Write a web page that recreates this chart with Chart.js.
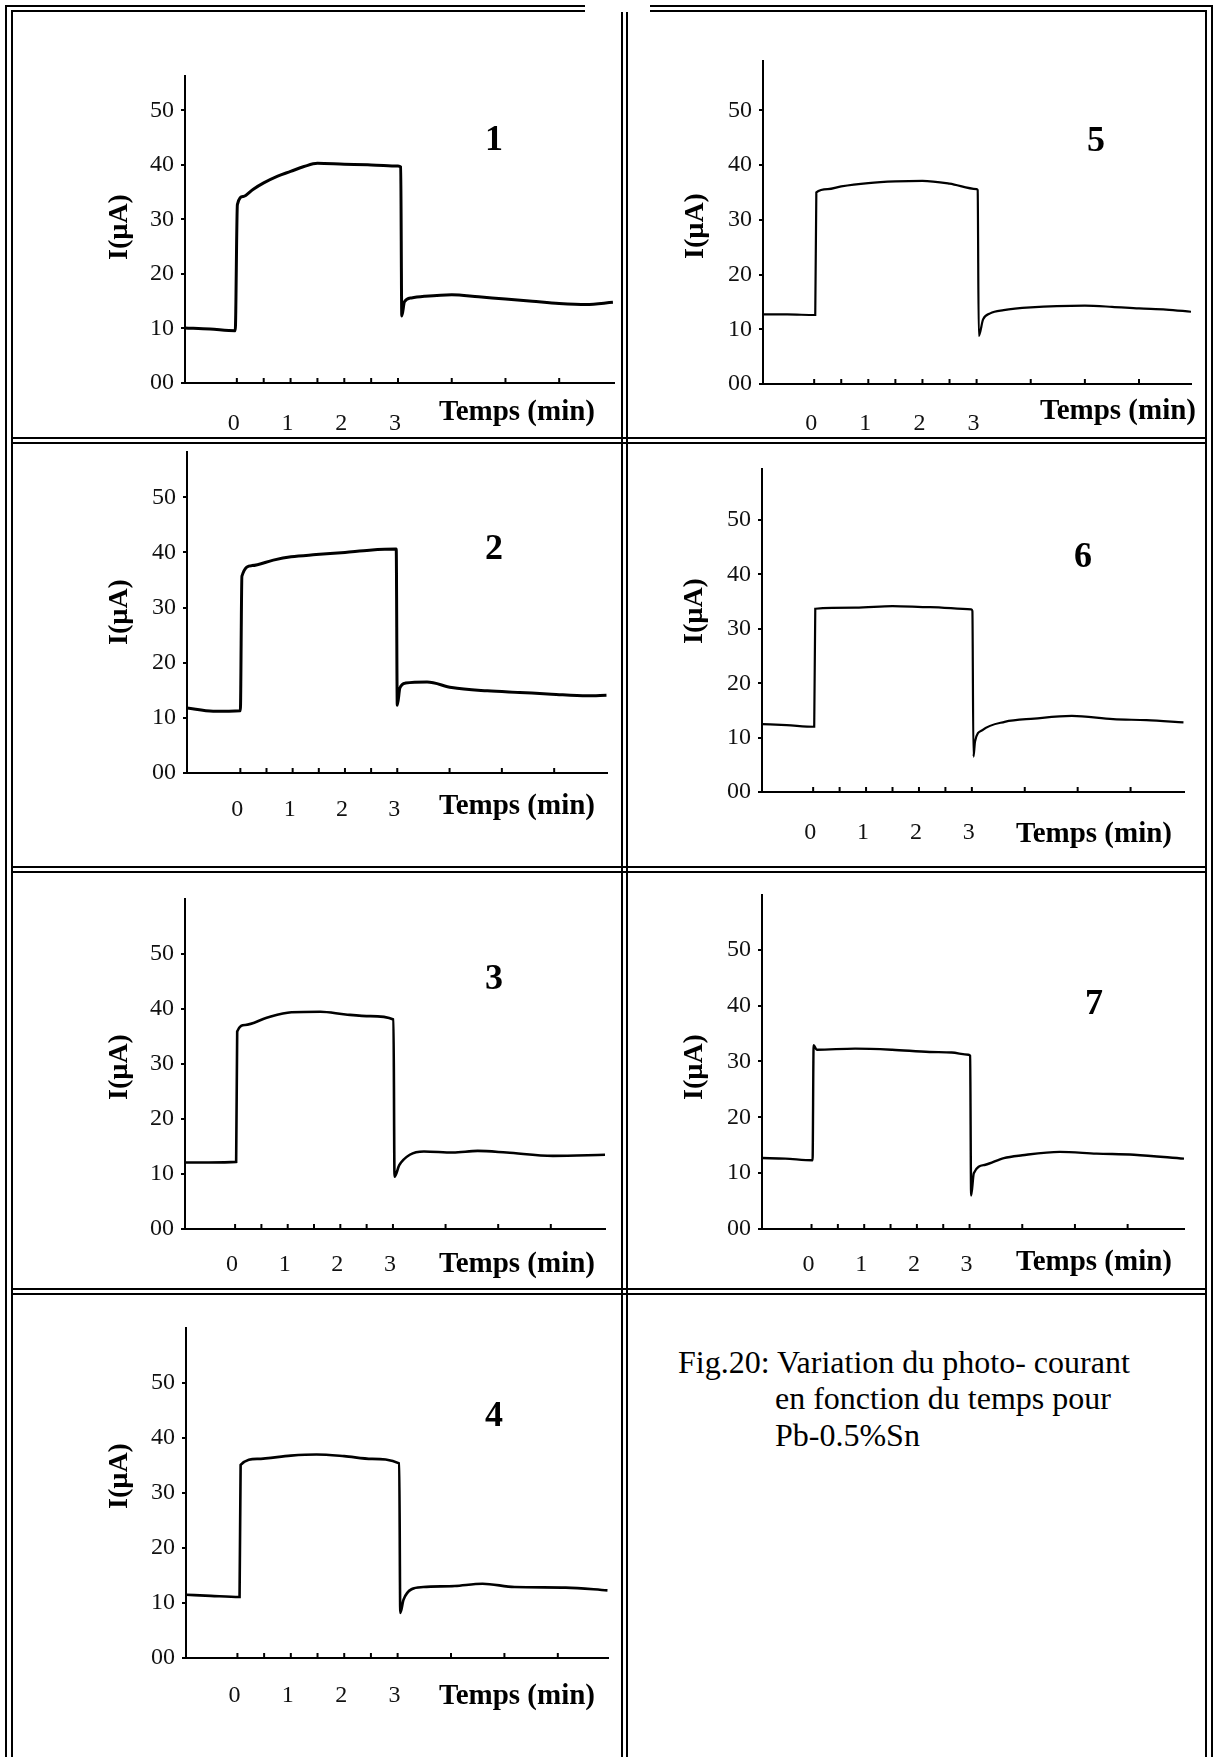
<!DOCTYPE html>
<html lang="fr">
<head>
  <meta charset="utf-8" />
  <title>Fig.20 - photo-courant Pb-0.5%Sn</title>
  <script src="https://cdn.jsdelivr.net/npm/chart.js"></script>
  <style>
    * { box-sizing: border-box; margin: 0; padding: 0; }
    body {
      width: 1217px; height: 1757px; position: relative; overflow: hidden;
      background: #fff; font-family: "Liberation Serif", "Times New Roman", serif;
    }
    .ln { position: absolute; background: #000; }
    .gap { position: absolute; background: #fff; }
    canvas.plot { position: absolute; left: 0; top: 0; }
    .caption { position: absolute; font-size: 32px; line-height: 36px; color: #000; white-space: nowrap; }
  </style>
</head>
<body>
  <!-- double-line table frame -->
  <div class="ln" style="left:5px;top:5px;width:1208px;height:2px"></div>
  <div class="ln" style="left:11px;top:10px;width:1196px;height:2px"></div>
  <div class="gap" style="left:585px;top:0;width:65px;height:13px"></div>
  <div class="ln" style="left:5px;top:5px;width:2px;height:1752px"></div>
  <div class="ln" style="left:11px;top:10px;width:2px;height:1747px"></div>
  <div class="ln" style="left:1205px;top:10px;width:2px;height:1747px"></div>
  <div class="ln" style="left:1211px;top:5px;width:2px;height:1752px"></div>
  <div class="ln" style="left:621px;top:12px;width:2px;height:1745px"></div>
  <div class="ln" style="left:626px;top:12px;width:2px;height:1745px"></div>
  <div class="ln" style="left:11px;top:437px;width:1196px;height:2px"></div>
  <div class="ln" style="left:11px;top:442px;width:1196px;height:2px"></div>
  <div class="ln" style="left:11px;top:866px;width:1196px;height:2px"></div>
  <div class="ln" style="left:11px;top:871px;width:1196px;height:2px"></div>
  <div class="ln" style="left:11px;top:1288px;width:1196px;height:2px"></div>
  <div class="ln" style="left:11px;top:1293px;width:1196px;height:2px"></div>

  <div class="caption" style="left:678px;top:1344px">Fig.20: Variation du photo- courant</div>
  <div class="caption" style="left:775px;top:1380px">en fonction du temps pour</div>
  <div class="caption" style="left:775px;top:1417px">Pb-0.5%Sn</div>

  <script>
    // time (min) and photo-current (µA)
    const t1 = [-0.97, -0.5, -0.03, 0.01, 0.12, 0.3, 0.5, 0.75, 1.0, 1.25, 1.5, 2.0, 2.5, 3.0, 3.05, 3.07, 3.12, 3.25, 3.5, 4.0, 4.5, 5.0, 5.5, 6.0, 6.5, 7.0];
    const i1 = [10.1, 9.9, 9.6, 32.7, 34.2, 35.5, 36.7, 37.9, 38.8, 39.7, 40.3, 40.1, 40.0, 39.8, 39.6, 12.3, 14.9, 15.6, 15.9, 16.2, 15.8, 15.4, 15.0, 14.6, 14.4, 14.8];

    const t2 = [-1.02, -0.52, 0.0, 0.03, 0.22, 0.63, 0.97, 1.45, 2.0, 2.47, 2.98, 3.0, 3.05, 3.16, 3.57, 4.04, 4.72, 5.34, 5.95, 6.63, 7.0];
    const i2 = [11.8, 11.2, 11.3, 35.7, 37.6, 38.6, 39.2, 39.6, 40.0, 40.4, 40.6, 12.3, 15.4, 16.3, 16.5, 15.5, 14.9, 14.6, 14.3, 14.0, 14.1];

    const t3 = [-0.95, -0.5, 0.02, 0.04, 0.19, 0.6, 1.07, 1.62, 2.1, 2.57, 3.01, 3.03, 3.12, 3.32, 3.59, 4.14, 4.61, 5.16, 6.04, 7.03];
    const i3 = [12.1, 12.1, 12.2, 35.9, 37.1, 38.4, 39.4, 39.5, 39.0, 38.7, 38.1, 9.5, 11.6, 13.5, 14.1, 13.9, 14.2, 13.9, 13.3, 13.5];

    const t4 = [-0.96, -0.5, 0.04, 0.06, 0.37, 1.0, 1.48, 2.0, 2.52, 3.03, 3.05, 3.11, 3.26, 3.48, 4.07, 4.59, 5.19, 6.15, 6.93];
    const i4 = [11.5, 11.3, 11.1, 35.1, 36.2, 36.8, 37.0, 36.7, 36.2, 35.4, 8.2, 10.6, 12.5, 12.9, 13.1, 13.5, 12.9, 12.8, 12.3];

    const t5 = [-0.95, -0.5, 0.02, 0.04, 0.25, 0.5, 1.0, 1.5, 2.0, 2.5, 3.0, 3.02, 3.04, 3.12, 3.25, 3.5, 4.0, 5.0, 5.5, 6.0, 6.5, 6.96];
    const i5 = [12.7, 12.7, 12.6, 35.0, 35.6, 36.1, 36.7, 37.0, 37.1, 36.6, 35.6, 35.4, 8.8, 11.8, 12.9, 13.5, 14.0, 14.3, 14.1, 13.8, 13.6, 13.2];

    const t6 = [-0.97, -0.5, 0.02, 0.04, 0.8, 1.5, 2.21, 2.99, 3.01, 3.03, 3.06, 3.2, 3.62, 4.18, 4.89, 5.67, 6.3, 7.0];
    const i6 = [12.5, 12.3, 12.0, 33.7, 33.9, 34.2, 34.0, 33.6, 33.3, 6.5, 9.3, 11.4, 12.9, 13.5, 14.0, 13.4, 13.2, 12.8];

    const t7 = [-0.94, -0.5, 0.02, 0.04, 0.1, 0.83, 1.53, 2.24, 2.66, 2.98, 3.01, 3.03, 3.08, 3.3, 3.65, 4.0, 4.71, 5.41, 6.12, 7.07];
    const i7 = [12.7, 12.6, 12.3, 32.9, 32.1, 32.3, 32.1, 31.7, 31.6, 31.2, 31.0, 6.0, 10.0, 11.5, 12.7, 13.2, 13.8, 13.5, 13.3, 12.6];

    const yTicks = [0, 5, 10, 15, 20, 25, 30, 35, 40, 45, 50, 55];
    const yLabelValues = [0, 10, 20, 30, 40, 50];
    const yTickLabels = ['00', '10', '20', '30', '40', '50'];
    const xTicks = [0, 0.5, 1, 1.5, 2, 2.5, 3, 4, 5, 6];
    const xLabelValues = [0, 1, 2, 3];
    const xTickLabels = ['0', '1', '2', '3'];

    const PAGE_W = 1217, PAGE_H = 1757, Y_W = 60, X_H = 70;

    // layout of each small plot on the page: plot box [left, top, right, bottom] in px
    const panels = [
      { num: '1', t: t1, y: i1, xMin: -0.965, xMax: 7.02, yMax: 56.3, box: [185, 76, 614, 383], lw: 3,   pad: 18, yT: [120, 227],  xT: [439, 413],  nT: [494, 141] },
      { num: '2', t: t2, y: i2, xMin: -1.02,  xMax: 7.01, yMax: 58.2, box: [187, 452, 607, 773], lw: 3,  pad: 14, yT: [120, 612],  xT: [439, 807],  nT: [494, 550] },
      { num: '3', t: t3, y: i3, xMin: -0.952, xMax: 7.03, yMax: 60,   box: [185, 899, 605, 1229], lw: 2.6, pad: 13, yT: [120, 1067], xT: [439, 1265], nT: [494, 980] },
      { num: '4', t: t4, y: i4, xMin: -0.963, xMax: 6.94, yMax: 60,   box: [186, 1328, 608, 1658], lw: 2.6, pad: 15, yT: [120, 1476], xT: [439, 1697], nT: [494, 1417] },
      { num: '5', t: t5, y: i5, xMin: -0.945, xMax: 6.96, yMax: 59,   box: [763, 61, 1191, 384], lw: 2.2,  pad: 17, yT: [696, 226],  xT: [1040, 412], nT: [1096, 142] },
      { num: '6', t: t6, y: i6, xMin: -0.967, xMax: 7.01, yMax: 59.4, box: [762, 469, 1184, 792], lw: 2.2,  pad: 18, yT: [695, 611],  xT: [1016, 835], nT: [1083, 558] },
      { num: '7', t: t7, y: i7, xMin: -0.94,  xMax: 7.07, yMax: 59.8, box: [762, 895, 1184, 1229], lw: 2.4, pad: 13, yT: [695, 1067], xT: [1016, 1263], nT: [1094, 1005] }
    ];

    // inward x ticks, axis titles and panel number
    const decor = {
      id: 'decor',
      afterDraw(chart, args, o) {
        const { ctx, chartArea } = chart;
        const xs = chart.scales.x;
        ctx.save();
        ctx.strokeStyle = '#000';
        ctx.lineWidth = 2;
        xs.ticks.forEach(tk => {
          const px = xs.getPixelForValue(tk.value);
          ctx.beginPath();
          ctx.moveTo(px, chartArea.bottom);
          ctx.lineTo(px, chartArea.bottom - 5);
          ctx.stroke();
        });
        ctx.fillStyle = '#000';
        ctx.textBaseline = 'middle';
        ctx.font = 'bold 29px "Liberation Serif"';
        ctx.textAlign = 'left';
        ctx.fillText('Temps (min)', o.xT[0], o.xT[1]);
        ctx.font = 'bold 36px "Liberation Serif"';
        ctx.textAlign = 'center';
        ctx.fillText(o.num, o.nT[0], o.nT[1]);
        ctx.translate(o.yT[0], o.yT[1]);
        ctx.rotate(-Math.PI / 2);
        ctx.font = 'bold 28px "Liberation Serif"';
        ctx.fillText('I(µA)', 0, 0);
        ctx.restore();
      }
    };

    Chart.defaults.font.family = '"Liberation Serif", "Times New Roman", serif';
    Chart.defaults.color = '#111';

    panels.forEach(p => {
      const cv = document.createElement('canvas');
      cv.className = 'plot';
      cv.width = PAGE_W;
      cv.height = PAGE_H;
      document.body.appendChild(cv);

      const [l, tp, r, b] = p.box;
      new Chart(cv, {
        type: 'line',
        data: {
          datasets: [{
            data: p.t.map((tv, k) => ({ x: tv, y: p.y[k] })),
            borderColor: '#000',
            borderWidth: p.lw,
            pointRadius: 0,
            fill: false,
            cubicInterpolationMode: 'monotone'
          }]
        },
        options: {
          responsive: false,
          animation: false,
          events: [],
          layout: { padding: { left: l - Y_W, top: tp, right: PAGE_W - r, bottom: PAGE_H - b - X_H } },
          scales: {
            x: {
              type: 'linear',
              min: p.xMin,
              max: p.xMax,
              afterBuildTicks: s => { s.ticks = xTicks.map(v => ({ value: v })); },
              afterFit: s => { s.height = X_H; },
              grid: { display: false },
              border: { display: true, color: '#000', width: 2 },
              ticks: {
                autoSkip: false,
                maxRotation: 0,
                padding: p.pad,
                labelOffset: -3,
                font: { size: 24 },
                callback: v => {
                  const k = xLabelValues.indexOf(v);
                  return k < 0 ? '' : xTickLabels[k];
                }
              }
            },
            y: {
              type: 'linear',
              min: 0,
              max: p.yMax,
              afterBuildTicks: s => { s.ticks = yTicks.filter(v => v <= p.yMax).map(v => ({ value: v })); },
              afterFit: s => { s.width = Y_W; },
              grid: { display: true, drawOnChartArea: false, drawTicks: true, tickLength: 4, lineWidth: 2, color: '#000' },
              border: { display: true, color: '#000', width: 2 },
              ticks: {
                padding: 7,
                font: { size: 24 },
                callback: v => {
                  const k = yLabelValues.indexOf(v);
                  return k < 0 ? '' : yTickLabels[k];
                }
              }
            }
          },
          plugins: {
            legend: { display: false },
            tooltip: { enabled: false },
            decor: { num: p.num, yT: p.yT, xT: p.xT, nT: p.nT }
          }
        },
        plugins: [decor]
      });
    });
  </script>
</body>
</html>
